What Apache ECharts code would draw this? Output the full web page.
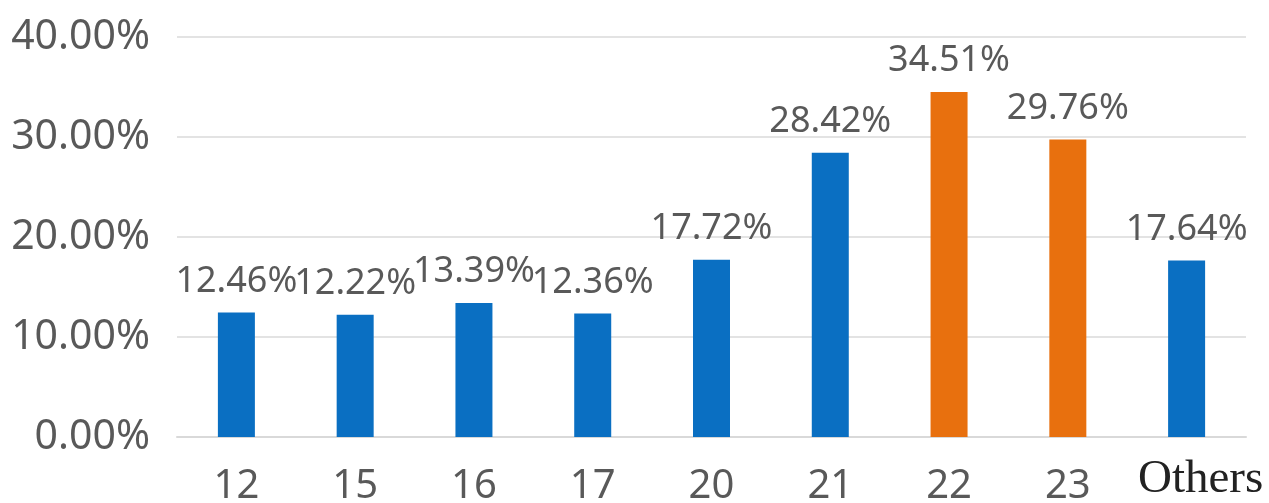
<!DOCTYPE html>
<html>
<head>
<meta charset="utf-8">
<script src="https://cdn.jsdelivr.net/npm/echarts@6/dist/echarts.min.js"></script>
<style>
html, body { margin: 0; padding: 0; background: #fff; }
#main { width: 1269px; height: 503px; }
</style>
</head>
<body>
<div id="main"></div>
<script>
// 数据
var categories = ['12', '15', '16', '17', '20', '21', '22', '23', 'Others'];
var shares = [12.46, 12.22, 13.39, 12.36, 17.72, 28.42, 34.51, 29.76, 17.64];
var highlighted = ['22', '23'];
var yTicks = [0, 10, 20, 30, 40];

var blue = '#0A6FC2';
var orange = '#E8700E';
var textGray = '#595959';

var chartOption = {
    animation: false,
    grid: {
        left: 177,
        right: 23,
        top: 37,
        bottom: 66,
        containLabel: false,
        outerBoundsMode: 'none'
    },
    xAxis: {
        type: 'category',
        data: categories,
        axisLine: { lineStyle: { color: '#D9D9D9', width: 2 } },
        axisTick: { show: false },
        axisLabel: {
            margin: 30,
            formatter: function (v) {
                return v === 'Others' ? '{serif|' + v + '}' : '{sans|' + v + '}';
            },
            rich: {
                sans: { fontFamily: 'Noto Sans', fontSize: 40, color: textGray },
                serif: {
                    fontFamily: 'Liberation Serif', fontSize: 47, color: '#222',
                    lineHeight: 26,
                    padding: [0, 0, 0, 28]
                }
            }
        }
    },
    yAxis: {
        type: 'value',
        min: yTicks[0],
        max: yTicks[yTicks.length - 1],
        interval: 10,
        axisLine: { show: false },
        axisTick: { show: false },
        splitLine: { lineStyle: { color: '#E3E3E3', width: 2 } },
        axisLabel: {
            margin: 27,
            fontFamily: 'Noto Sans',
            fontSize: 41,
            color: textGray,
            formatter: function (v) { return v.toFixed(2) + '%'; }
        }
    },
    series: [{
        type: 'bar',
        data: shares,
        barWidth: 37,
        itemStyle: {
            color: function (p) {
                return highlighted.indexOf(p.name) >= 0 ? orange : blue;
            }
        },
        label: {
            show: true,
            position: 'top',
            distance: 13,
            fontFamily: 'Noto Sans',
            fontSize: 36,
            color: textGray,
            formatter: function (p) { return p.value.toFixed(2) + '%'; }
        }
    }]
};

var domMain = document.getElementById('main');
var barChart = echarts.init(domMain);
barChart.setOption(chartOption);
</script>
</body>
</html>
